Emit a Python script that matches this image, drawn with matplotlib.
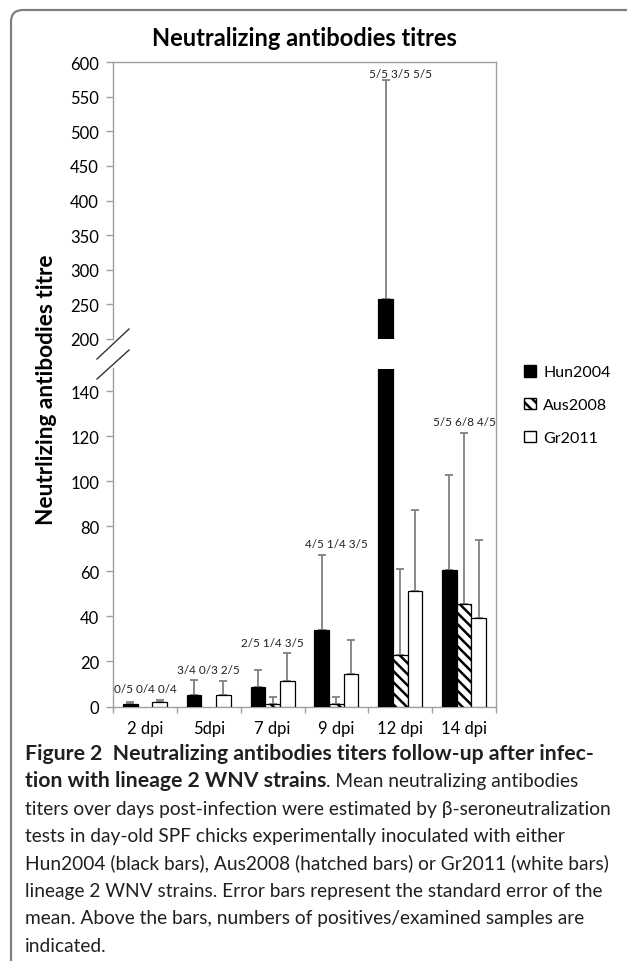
import matplotlib
matplotlib.use('Agg')
import matplotlib.pyplot as plt
from matplotlib.patches import Patch, FancyBboxPatch
from matplotlib.lines import Line2D
from matplotlib.transforms import IdentityTransform
import numpy as np

# ---------------- data ----------------
categories = ['2 dpi', '5dpi', '7 dpi', '9 dpi', '12 dpi', '14 dpi']
series_names = ['Hun2004', 'Aus2008', 'Gr2011']
hun_mean = [0.9, 4.9, 8.7, 33.9, 258.0, 60.6]
hun_sem = [1.3, 6.8, 7.4, 33.4, 316.0, 42.1]
aus_mean = [0.0, 0.0, 1.0, 1.0, 22.8, 45.3]
aus_sem = [0.0, 0.0, 3.2, 3.2, 38.0, 76.2]
gr_mean = [1.8, 5.3, 11.3, 14.5, 51.3, 39.4]
gr_sem = [1.3, 6.0, 12.4, 15.0, 35.8, 34.5]
positives = ['0/5 0/4 0/4', '3/4 0/3 2/5', '2/5 1/4 3/5',
             '4/5 1/4 3/5', '5/5 3/5 5/5', '5/5 6/8 4/5']
lower_ticks = [0, 20, 40, 60, 80, 100, 120, 140]
upper_ticks = [200, 250, 300, 350, 400, 450, 500, 550, 600]
lower_lim = (0, 150)
upper_lim = (200, 600)

title = 'Neutralizing antibodies titres'
ylabel = 'Neutrlizing antibodies titre'
caption_bold_1 = 'Figure 2  Neutralizing antibodies titers follow-up after infec-'
caption_bold_2 = 'tion with lineage 2 WNV strains'
caption_rest_2 = '. Mean neutralizing antibodies'
caption_lines = [
    'titers over days post-infection were estimated by \u03b2-seroneutralization',
    'tests in day-old SPF chicks experimentally inoculated with either',
    'Hun2004 (black bars), Aus2008 (hatched bars) or Gr2011 (white bars)',
    'lineage 2 WNV strains. Error bars represent the standard error of the',
    'mean. Above the bars, numbers of positives/examined samples are',
    'indicated.',
]

# ---------------- style ----------------
plt.rcParams['font.family'] = ['Lato', 'DejaVu Sans']
plt.rcParams['hatch.linewidth'] = 1.8
plt.rcParams['hatch.color'] = 'black'

W, H = 627, 962
fig = plt.figure(figsize=(W / 100, H / 100), dpi=100)
fig.patch.set_facecolor('white')

spine_col = '#a0a0a0'
err_col = '#808080'

ax_top = fig.add_axes([113 / W, 1 - 340 / H, 383 / W, 277 / H])
ax_bot = fig.add_axes([113 / W, 1 - 707.5 / H, 383 / W, 338 / H])

x = np.arange(len(categories))
bw = 0.23
series = [
    (hun_mean, hun_sem, dict(facecolor='black', edgecolor='black', hatch=None)),
    (aus_mean, aus_sem, dict(facecolor='white', edgecolor='black', hatch='\\\\\\')),
    (gr_mean, gr_sem, dict(facecolor='white', edgecolor='black', hatch=None)),
]
offsets = [-bw, 0, bw]

for ax in (ax_top, ax_bot):
    for (mean, sem, st), off in zip(series, offsets):
        mean = np.asarray(mean); sem = np.asarray(sem)
        m = mean > 0
        ax.bar(x[m] + off, mean[m], width=bw, linewidth=0.9, zorder=3, **st)
        e = sem > 0
        ax.errorbar(x[e] + off, mean[e], yerr=[np.zeros(e.sum()), sem[e]],
                    fmt='none', ecolor=err_col, elinewidth=1.3, capsize=3,
                    capthick=1.3, zorder=2)
    ax.set_xlim(-0.5, len(categories) - 0.5)
    for s in ax.spines.values():
        s.set_color(spine_col)
        s.set_linewidth(1.0)
    ax.spines['right'].set_visible(False)
    ax.tick_params(axis='y', direction='out', length=5, color=spine_col,
                   labelsize=12, pad=5, width=1.0)

ax_top.set_ylim(*upper_lim)
ax_top.set_yticks(upper_ticks)
ax_top.spines['bottom'].set_visible(False)
ax_top.set_xticks([])

ax_bot.set_ylim(*lower_lim)
ax_bot.set_yticks(lower_ticks)
ax_bot.spines['top'].set_visible(False)
ax_bot.set_xticks(x)
ax_bot.set_xticklabels(categories, fontsize=12)
ax_bot.set_xticks(np.arange(len(categories) + 1) - 0.5, minor=True)
ax_bot.tick_params(axis='x', which='major', length=0, pad=10)
ax_bot.tick_params(axis='x', which='minor', direction='out', length=4,
                   color=spine_col, width=1.0)

# continuous right frame line
fig.add_artist(Line2D([496 / W, 496 / W], [1 - 707.5 / H, 1 - 63 / H],
                      transform=fig.transFigure, color=spine_col, lw=1.0))

# axis break marks (pixel coordinates)
for (x0, y0, x1, y1) in [(97, 360, 129, 330), (97, 380, 129, 351)]:
    fig.add_artist(Line2D([x0, x1], [H - y0, H - y1], transform=IdentityTransform(),
                          color='#333333', lw=1.0))

# counts of positives above groups
tops = [max(a + b, c + d, e + f) for a, b, c, d, e, f in
        zip(hun_mean, hun_sem, aus_mean, aus_sem, gr_mean, gr_sem)]
for i, (lab, t) in enumerate(zip(positives, tops)):
    ax = ax_top if t > lower_lim[1] else ax_bot
    ax.annotate(lab, xy=(i, t), xytext=(0, 4 if ax is ax_bot else 1),
                textcoords='offset points', ha='center', va='bottom',
                fontsize=8.5, color='#222222', zorder=5)

# title and y label
fig.text(304 / W, 1 - 39 / H, title, ha='center', va='center',
         fontsize=17, fontweight='bold')
fig.text(47 / W, 1 - 390 / H, ylabel, ha='center', va='center', rotation=90,
         fontsize=16.3, fontweight='bold')

# legend
handles = [Patch(facecolor='black', edgecolor='black'),
           Patch(facecolor='white', edgecolor='black', hatch='\\\\\\'),
           Patch(facecolor='white', edgecolor='black')]
fig.legend(handles, series_names, loc='center left',
           bbox_to_anchor=(524 / W, 1 - 406 / H), frameon=False, fontsize=11.5,
           handlelength=0.75, handleheight=0.75, handletextpad=0.45,
           labelspacing=1.15, borderpad=0, borderaxespad=0)

# rounded border
fig.add_artist(FancyBboxPatch((11, -60), 700, H - 11 + 60, transform=IdentityTransform(),
                              boxstyle='round,pad=0,rounding_size=12', fill=False,
                              ec='#808080', lw=1.6))

# caption
cap_font = ['Lato', 'DejaVu Sans']
renderer = fig.canvas.get_renderer()
x0 = 25
base0 = 760
step = 27.4

def width_px(txt, size, weight):
    t = fig.text(0, 0, txt, fontsize=size, fontweight=weight, family=cap_font)
    w = t.get_window_extent(renderer).width
    t.remove()
    return w

bold_size = 10 * 571 / width_px(caption_bold_1, 10, 'bold')
reg_size = 10 * 589 / width_px(caption_lines[0], 10, 'normal')
col = '#231f20'

fig.text(x0 / W, 1 - base0 / H, caption_bold_1, fontsize=bold_size, fontweight='bold',
         family=cap_font, va='baseline', ha='left', color=col)
t2 = fig.text(x0 / W, 1 - (base0 + step) / H, caption_bold_2, fontsize=bold_size,
              fontweight='bold', family=cap_font, va='baseline', ha='left', color=col)
w2 = t2.get_window_extent(renderer).width
fig.text((x0 + w2) / W, 1 - (base0 + step) / H, caption_rest_2, fontsize=reg_size,
         family=cap_font, va='baseline', ha='left', color=col)
for k, line in enumerate(caption_lines):
    fig.text(x0 / W, 1 - (base0 + step * (k + 2)) / H, line, fontsize=reg_size,
             family=cap_font, va='baseline', ha='left', color=col)

fig.savefig('out.png', dpi=100)
